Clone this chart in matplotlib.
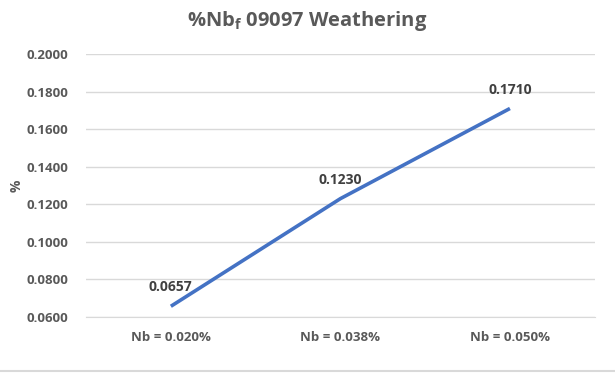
import matplotlib
matplotlib.use("Agg")
import matplotlib.pyplot as plt
from matplotlib.lines import Line2D

categories = ["Nb = 0.020%", "Nb = 0.038%", "Nb = 0.050%"]
values = [0.0657, 0.1230, 0.1710]
yticks = [0.06, 0.08, 0.10, 0.12, 0.14, 0.16, 0.18, 0.20]

plt.rcParams['font.family'] = ['Open Sans', 'DejaVu Sans']

fig = plt.figure(figsize=(6.15, 3.75), dpi=100)
ax = fig.add_axes([0.140, 0.1547, 0.827, 0.7013])

x = list(range(len(categories)))
ax.plot(x, values, color="#4472C4", linewidth=2.6, solid_capstyle="butt", zorder=3)
for xi, v in zip(x, values):
    ax.annotate(f"{v:.4f}", (xi, v), xytext=(0, 8.5), textcoords="offset points",
                ha="center", va="bottom", fontsize=10, fontweight="bold", color="#404040")

ax.set_xlim(-0.5, 2.5)
ax.set_ylim(0.06, 0.20)
ax.set_yticks(yticks)
ax.set_yticklabels([f"{t:.4f}" for t in yticks])
ax.set_xticks(x)
ax.set_xticklabels(categories)
ax.tick_params(axis="both", length=0, labelsize=9.5, labelcolor="#595959", pad=10)
for lab in ax.get_xticklabels() + ax.get_yticklabels():
    lab.set_fontweight("bold")
ax.tick_params(axis="y", pad=13)
ax.grid(axis="y", color="#D9D9D9", linewidth=1)
ax.set_axisbelow(True)
for s in ["top", "right", "left"]:
    ax.spines[s].set_visible(False)
ax.spines["bottom"].set_color("#D9D9D9")
ax.set_ylabel("%", fontsize=10, color="#595959", fontweight="bold", labelpad=2)

fig.suptitle(r"%Nb$_\mathregular{f}$ 09097 Weathering", x=0.5, y=0.975, fontsize=14.5,
             fontweight="bold", color="#595959")
fig.add_artist(Line2D([0, 1], [0.01, 0.01], color="#D9D9D9", linewidth=1.5, transform=fig.transFigure))

fig.savefig("out.png", dpi=100)
